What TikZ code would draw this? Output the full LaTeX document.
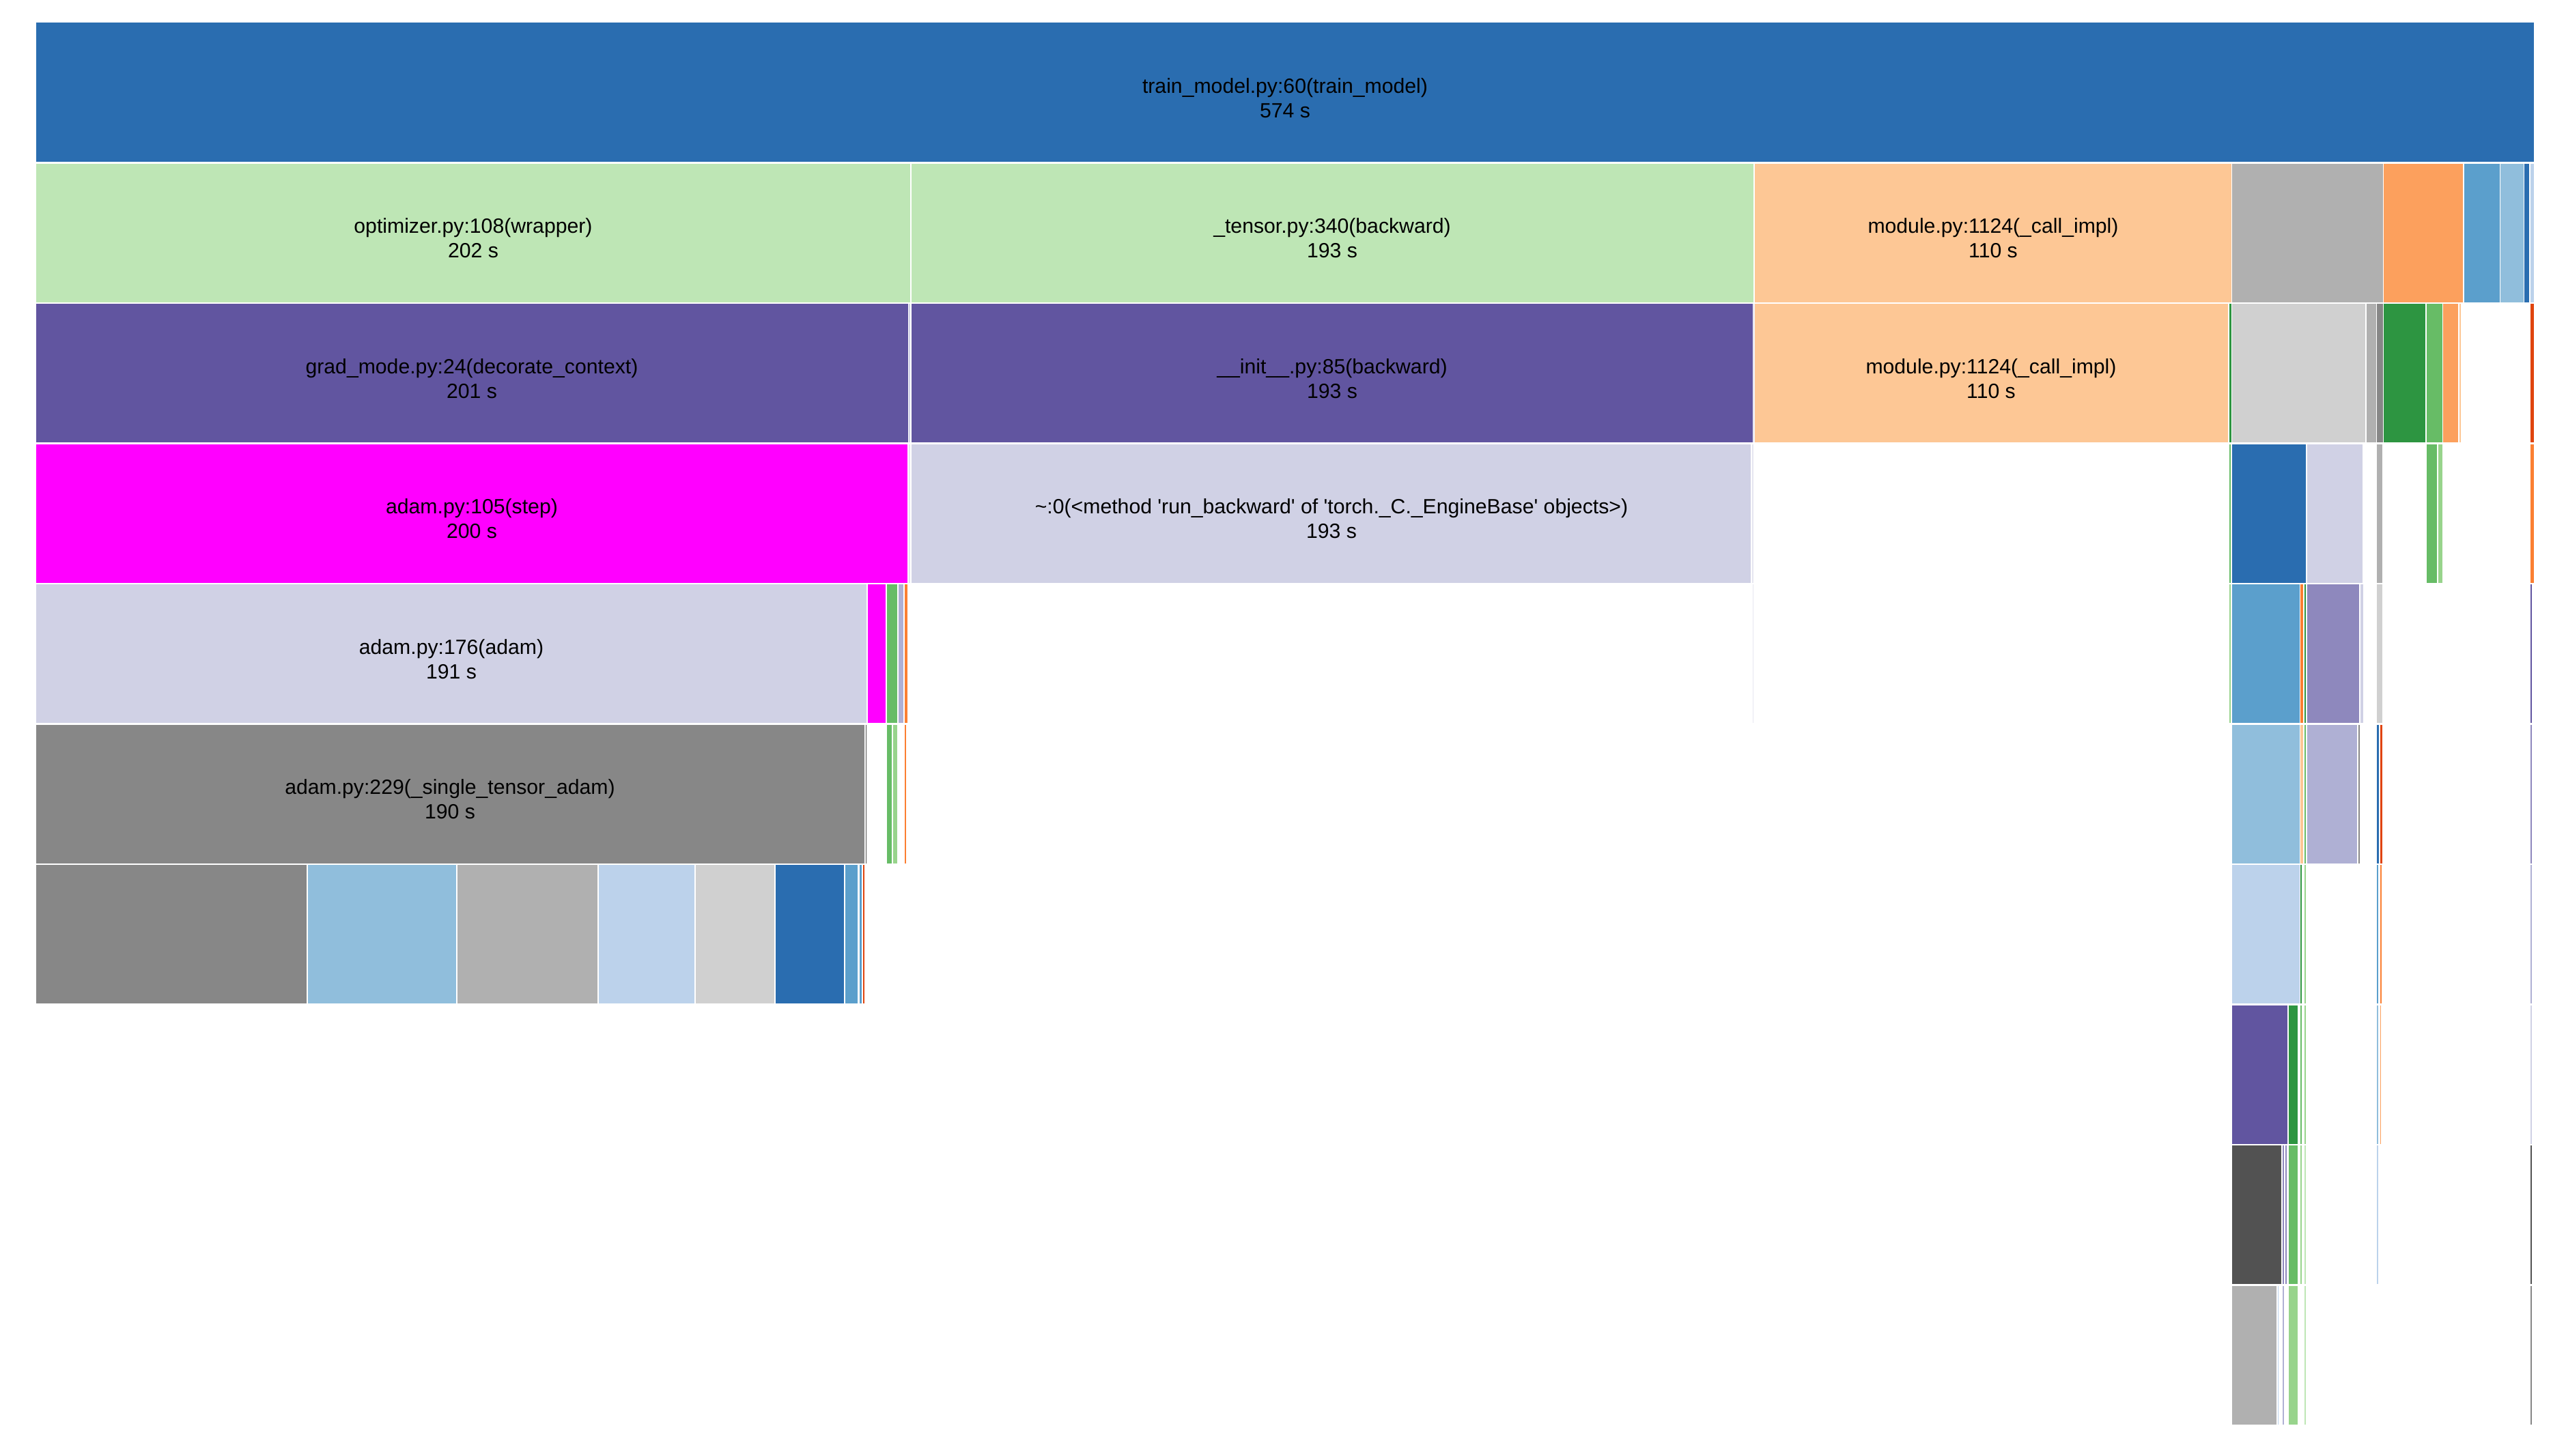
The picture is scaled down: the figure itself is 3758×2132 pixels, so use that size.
\documentclass[tikz,border=0pt]{standalone}
\usepackage{fontspec}
\setmainfont{Liberation Sans}
\definecolor{qa}{HTML}{2A6DB0}
\definecolor{qb}{HTML}{5B9FCC}
\definecolor{qc}{HTML}{90BEDC}
\definecolor{qd}{HTML}{BCD2EB}
\definecolor{qe}{HTML}{E0440E}
\definecolor{qf}{HTML}{FB7F32}
\definecolor{qg}{HTML}{FCA05D}
\definecolor{qh}{HTML}{FDC795}
\definecolor{qi}{HTML}{2D9541}
\definecolor{qj}{HTML}{67BC66}
\definecolor{qk}{HTML}{98D48C}
\definecolor{ql}{HTML}{BEE6B5}
\definecolor{qm}{HTML}{6155A0}
\definecolor{qn}{HTML}{8E88BD}
\definecolor{qo}{HTML}{AFB0D4}
\definecolor{qp}{HTML}{D0D1E5}
\definecolor{qq}{HTML}{525252}
\definecolor{qr}{HTML}{878787}
\definecolor{qs}{HTML}{B0B0B0}
\definecolor{qt}{HTML}{D0D0D0}
\definecolor{qmg}{HTML}{FF00FF}
\definecolor{qfaint}{HTML}{E6E6F0}
\newcommand\fr[4]{\fill[fill=#4] (#1,{33+205.5*#3+1}) rectangle (#2,{33+205.5*#3+204});}
\newcommand\flab[5]{%
  \node[lab] (#1a) at (#2,{33+205.5*#3+103}) {#4};
  \node[lab] (#1b) at (#2,{33+205.5*#3+139}) {#5};}
\begin{document}
\begin{tikzpicture}[x=0.25pt,y=-0.25pt,
  lab/.style={anchor=base,inner sep=0pt,text=black,font=\fontsize{7.55}{9}\selectfont}]
\useasboundingbox (0,0) rectangle (3758,2132);
% row 0
\fill[fill=qa] (53,33) rectangle (3711,237);
% row 1
\fr{53}{1333}{1}{ql}\fr{1335}{2568}{1}{ql}\fr{2570}{3268}{1}{qh}
\fr{3269}{3490}{1}{qs}\fr{3491}{3607}{1}{qg}\fr{3609}{3661}{1}{qb}
\fr{3662}{3696}{1}{qc}\fr{3697}{3704}{1}{qa}\fr{3706}{3711}{1}{qd}
% row 2
\fr{53}{1330}{2}{qm}\fr{1331}{1332.5}{2}{qp}\fr{1335}{2567}{2}{qm}
\fr{2567.5}{2568.5}{2}{qp}\fr{2570}{3263}{2}{qh}\fr{3265}{3268}{2}{qi}
\fr{3269}{3464}{2}{qt}\fr{3466}{3480}{2}{qs}\fr{3481}{3490}{2}{qr}
\fr{3491}{3552}{2}{qi}\fr{3554}{3577}{2}{qj}\fr{3578}{3600}{2}{qg}
\fr{3602}{3604}{2}{qh}\fr{3706}{3711}{2}{qe}
% row 3
\fr{53}{1329}{3}{qmg}\fr{1331}{1332.5}{3}{qfaint}\fr{1335}{2564}{3}{qp}
\fr{2566}{2568}{3}{qfaint}\fr{3265}{3267}{3}{qj}\fr{3269}{3377}{3}{qa}
\fr{3379}{3460}{3}{qp}\fr{3481}{3489}{3}{qs}\fr{3554}{3569}{3}{qj}
\fr{3571}{3577}{3}{qk}\fr{3706}{3711}{3}{qf}
% row 4
\fr{53}{1269}{4}{qp}\fr{1271}{1297}{4}{qmg}\fr{1299}{1314}{4}{qj}
\fr{1316}{1323}{4}{qo}\fr{1325}{1329}{4}{qf}\fr{2566.5}{2567.5}{4}{qfaint}
\fr{3265}{3267}{4}{qk}\fr{3269}{3368}{4}{qb}\fr{3369}{3373}{4}{qf}
\fr{3375}{3377}{4}{qi}\fr{3379}{3455}{4}{qn}\fr{3457}{3461}{4}{qp}
\fr{3481}{3489}{4}{qt}\fr{3706}{3708}{4}{qm}
% row 5
\fr{53}{1266}{5}{qr}\fr{1267.5}{1269}{5}{qq}\fr{1299}{1306}{5}{qj}
\fr{1308}{1314}{5}{qk}\fr{1325}{1327}{5}{qf}\fr{3269}{3368}{5}{qc}
\fr{3369}{3373}{5}{qh}\fr{3375}{3377}{5}{qj}\fr{3379}{3452}{5}{qo}
\fr{3454}{3456}{5}{qr}\fr{3481}{3484}{5}{qa}\fr{3486}{3489}{5}{qe}
\fr{3706}{3708}{5}{qn}
% row 6
\fr{53}{449}{6}{qr}\fr{451}{668}{6}{qc}\fr{670}{875}{6}{qs}
\fr{877}{1017}{6}{qd}\fr{1019}{1134}{6}{qt}\fr{1136}{1236}{6}{qa}
\fr{1238}{1256}{6}{qb}\fr{1258.5}{1262}{6}{qb}\fr{1264}{1266}{6}{qe}
\fr{3269}{3368}{6}{qd}\fr{3369}{3371}{6}{qi}\fr{3375}{3377}{6}{qk}
\fr{3481}{3483}{6}{qb}\fr{3486}{3488}{6}{qf}\fr{3706}{3708}{6}{qo}
% row 7
\fr{3269}{3350}{7}{qm}\fr{3351.5}{3365}{7}{qi}\fr{3369}{3371}{7}{qj}
\fr{3375}{3377}{7}{qk}\fr{3481}{3483}{7}{qc}\fr{3486}{3487}{7}{qg}
\fr{3706}{3708}{7}{qp}
% row 8
\fr{3269}{3341}{8}{qq}\fr{3343}{3345}{8}{qn}\fr{3347}{3349}{8}{qn}
\fr{3351.5}{3365}{8}{qj}\fr{3369}{3371}{8}{qk}\fr{3375}{3377}{8}{ql}
\fr{3481}{3483}{8}{qd}\fr{3706}{3708}{8}{qq}
% row 9
\fr{3269}{3334}{9}{qs}\fr{3336}{3337}{9}{qd}\fr{3343}{3345}{9}{qo}
\fr{3351.5}{3365}{9}{qk}\fr{3375}{3377}{9}{ql}\fr{3706}{3708}{9}{qr}
% labels
\flab{tm}{1882}{0}{train\_model.py:60(train\_model)}{574 s}
\flab{opt}{693}{1}{optimizer.py:108(wrapper)}{202 s}
\flab{ten}{1951}{1}{\_tensor.py:340(backward)}{193 s}
\flab{mod}{2919}{1}{module.py:1124(\_call\_impl)}{110 s}
\flab{gm}{691}{2}{grad\_mode.py:24(decorate\_context)}{201 s}
\flab{ini}{1951}{2}{\_\_init\_\_.py:85(backward)}{193 s}
\flab{modb}{2916}{2}{module.py:1124(\_call\_impl)}{110 s}
\flab{stp}{691}{3}{adam.py:105(step)}{200 s}
\flab{rb}{1950}{3}{\textasciitilde:0(<method \textquotesingle run\_backward\textquotesingle\ of \textquotesingle torch.\_C.\_EngineBase\textquotesingle\ objects>)}{193 s}
\flab{ad}{661}{4}{adam.py:176(adam)}{191 s}
\flab{sta}{659}{5}{adam.py:229(\_single\_tensor\_adam)}{190 s}
\end{tikzpicture}
\end{document}
